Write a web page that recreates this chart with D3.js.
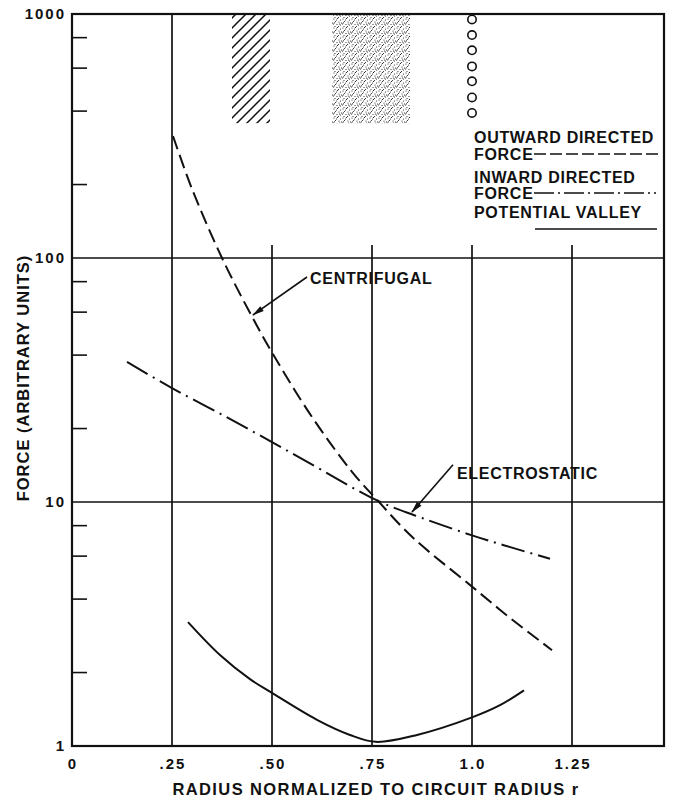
<!DOCTYPE html>
<html>
<head>
<meta charset="utf-8">
<script src="https://cdn.jsdelivr.net/npm/d3@7"></script>
<style>
  body { margin: 0; background: #fff; }
  text { font-family: "Liberation Sans", Arial, sans-serif; font-weight: bold; fill: #111; }
  .lbl { font-size: 16px; letter-spacing: 0.7px; }
  .xtitle { font-size: 16.5px; letter-spacing: 1.4px; }
  .ytitle { font-size: 16.5px; letter-spacing: 1px; }
  .tick { font-size: 15px; letter-spacing: 2px; }
</style>
</head>
<body>
<div id="chart"></div>
<script>
// axis ticks and labels
const xTicks = [0, 0.25, 0.5, 0.75, 1.0, 1.25];
const xTickLabels = ['0', '.25', '.50', '.75', '1.0', '1.25'];
const yTicks = [1, 10, 100, 1000];
const yTickLabels = ['1', '10', '100', '1000'];
const yMinorTicks = [2, 4, 6, 8, 20, 40, 60, 80, 200, 400, 600, 800];
const gridX = [0.25, 0.5, 0.75, 1.0, 1.25];
const gridXTop = [1000, 113, 113, 113, 113];
const gridY = [10, 100];

// curves [r, force]
const centrifugal = [[0.2525, 316], [0.3, 192], [0.375, 100], [0.45, 57.5], [0.5, 41], [0.6, 22.3],
  [0.7, 13.3], [0.765, 10.1], [0.85, 7.2], [1.0, 4.5], [1.1, 3.3], [1.2, 2.47]];
const electrostatic = [[0.1375, 37.5], [0.25, 29.3], [0.375, 22.8], [0.5, 17.6], [0.625, 13.5],
  [0.765, 10.1], [0.875, 8.6], [1.0, 7.3], [1.1, 6.5], [1.195, 5.85]];
const valley = [[0.29, 3.22], [0.37, 2.36], [0.445, 1.88], [0.5, 1.65], [0.6125, 1.28], [0.695, 1.11],
  [0.76, 1.04], [0.8625, 1.11], [1.0, 1.31], [1.07, 1.47], [1.13, 1.69]];

// shaded bands at the top [r0, r1, fBottom]
const hatchBand = [0.40, 0.495, 357];
const stippleBand = [0.65, 0.845, 357];
// column of circles at r = 1.0
const circleR = 1.0;
const circleF = [950, 820, 710, 610, 530, 455, 393];

// annotations: label, arrow tail [r,f], arrow tip [r,f]
const notes = [
  { text: 'CENTRIFUGAL', at: [0.595, 83], tail: [0.5875, 83.6], tip: [0.4525, 58.4] },
  { text: 'ELECTROSTATIC', at: [0.9625, 13.2], tail: [0.9525, 14.2], tip: [0.85, 9.1] }
];

const width = 673;
const height = 803;

const svg = d3.select('#chart')
  .append('svg')
    .attr('width', width)
    .attr('height', height);

const x = d3.scaleLinear().domain([0, 1.48]).range([72, 664]);
const y = d3.scaleLog().domain([1, 1000]).range([746, 14]);

const defs = svg.append('defs');

// hatch pattern
defs.append('pattern')
    .attr('id', 'hatch')
    .attr('patternUnits', 'userSpaceOnUse')
    .attr('width', 10).attr('height', 10)
  .append('path')
    .attr('d', 'M0,10 L10,0 M-2,2 L2,-2 M8,12 L12,8')
    .attr('stroke', '#111')
    .attr('stroke-width', 1.5);

// stipple pattern (fixed dot layout)
const dots = [[1, 1], [4.5, 0.5], [7.5, 2], [2.5, 3.5], [6, 4], [0.5, 6], [4, 6.5], [7.5, 7],
  [2, 8.5], [5.5, 8.5], [8.5, 5], [3.5, 2], [6.5, 6], [1.5, 4.8]];
const stip = defs.append('pattern')
    .attr('id', 'stipple')
    .attr('patternUnits', 'userSpaceOnUse')
    .attr('width', 9).attr('height', 9);
stip.selectAll('circle')
  .data(dots)
  .join('circle')
    .attr('cx', d => d[0])
    .attr('cy', d => d[1])
    .attr('r', 0.6)
    .attr('fill', '#222');

// arrow head
defs.append('marker')
    .attr('id', 'arrow')
    .attr('viewBox', '0 0 12 10')
    .attr('refX', 11).attr('refY', 5)
    .attr('markerWidth', 13).attr('markerHeight', 10)
    .attr('markerUnits', 'userSpaceOnUse')
    .attr('orient', 'auto')
  .append('path')
    .attr('d', 'M0,2 L12,5 L0,8 Z')
    .attr('fill', '#111');

// bands
svg.append('rect')
    .attr('x', x(hatchBand[0]))
    .attr('y', y(1000))
    .attr('width', x(hatchBand[1]) - x(hatchBand[0]))
    .attr('height', y(hatchBand[2]) - y(1000))
    .attr('fill', 'url(#hatch)');

svg.append('rect')
    .attr('x', x(stippleBand[0]))
    .attr('y', y(1000))
    .attr('width', x(stippleBand[1]) - x(stippleBand[0]))
    .attr('height', y(stippleBand[2]) - y(1000))
    .attr('fill', 'url(#stipple)');

// circles
svg.selectAll('.ring')
  .data(circleF)
  .join('circle')
    .attr('class', 'ring')
    .attr('cx', x(circleR))
    .attr('cy', d => y(d))
    .attr('r', 4.2)
    .attr('fill', 'none')
    .attr('stroke', '#111')
    .attr('stroke-width', 1.6);

// grid lines
svg.selectAll('.gx')
  .data(gridX)
  .join('line')
    .attr('class', 'gx')
    .attr('x1', d => x(d)).attr('x2', d => x(d))
    .attr('y1', (d, i) => y(gridXTop[i]))
    .attr('y2', y(1))
    .attr('stroke', '#111')
    .attr('stroke-width', 1.7);

svg.selectAll('.gy')
  .data(gridY)
  .join('line')
    .attr('class', 'gy')
    .attr('x1', x(0)).attr('x2', x(1.48))
    .attr('y1', d => y(d)).attr('y2', d => y(d))
    .attr('stroke', '#111')
    .attr('stroke-width', 1.7);

// frame
svg.append('rect')
    .attr('x', x(0)).attr('y', y(1000))
    .attr('width', x(1.48) - x(0))
    .attr('height', y(1) - y(1000))
    .attr('fill', 'none')
    .attr('stroke', '#111')
    .attr('stroke-width', 2.2);

// minor ticks on the left
svg.selectAll('.minor')
  .data(yMinorTicks)
  .join('line')
    .attr('class', 'minor')
    .attr('x1', x(0)).attr('x2', x(0) + 15)
    .attr('y1', d => y(d)).attr('y2', d => y(d))
    .attr('stroke', '#111')
    .attr('stroke-width', 1.6);

// tick labels
svg.selectAll('.ylab')
  .data(yTicks)
  .join('text')
    .attr('class', 'tick ylab')
    .attr('x', x(0) - 6)
    .attr('y', d => y(d) + 5)
    .attr('text-anchor', 'end')
    .text((d, i) => yTickLabels[i]);

svg.selectAll('.xlab')
  .data(xTicks)
  .join('text')
    .attr('class', 'tick xlab')
    .attr('x', d => x(d) + 1)
    .attr('y', 769)
    .attr('text-anchor', 'middle')
    .text((d, i) => xTickLabels[i]);

// axis titles
svg.append('text')
    .attr('class', 'xtitle')
    .attr('x', 376).attr('y', 795)
    .attr('text-anchor', 'middle')
    .text('RADIUS NORMALIZED TO CIRCUIT RADIUS r');

svg.append('text')
    .attr('class', 'ytitle')
    .attr('transform', 'translate(29,378) rotate(-90)')
    .attr('text-anchor', 'middle')
    .text('FORCE (ARBITRARY UNITS)');

// curves
const line = d3.line()
  .x(d => x(d[0]))
  .y(d => y(d[1]))
  .curve(d3.curveCatmullRom);

svg.append('path')
    .attr('d', line(centrifugal))
    .attr('fill', 'none')
    .attr('stroke', '#111')
    .attr('stroke-width', 2)
    .attr('stroke-dasharray', '14,6');

svg.append('path')
    .attr('d', line(electrostatic))
    .attr('fill', 'none')
    .attr('stroke', '#111')
    .attr('stroke-width', 2)
    .attr('stroke-dasharray', '24,6,2,6');

svg.append('path')
    .attr('d', line(valley))
    .attr('fill', 'none')
    .attr('stroke', '#111')
    .attr('stroke-width', 2);

// annotations
svg.selectAll('.note-arrow')
  .data(notes)
  .join('line')
    .attr('class', 'note-arrow')
    .attr('x1', d => x(d.tail[0])).attr('y1', d => y(d.tail[1]))
    .attr('x2', d => x(d.tip[0])).attr('y2', d => y(d.tip[1]))
    .attr('stroke', '#111')
    .attr('stroke-width', 1.6)
    .attr('marker-end', 'url(#arrow)');

svg.selectAll('.note')
  .data(notes)
  .join('text')
    .attr('class', 'lbl note')
    .attr('x', d => x(d.at[0]))
    .attr('y', d => y(d.at[1]) + 6)
    .text(d => d.text);

// legend
const legend = svg.append('g');
legend.append('text').attr('class', 'lbl').attr('x', 474).attr('y', 143).text('OUTWARD DIRECTED');
legend.append('text').attr('class', 'lbl').attr('x', 474).attr('y', 160).text('FORCE');
legend.append('line')
    .attr('x1', 534).attr('x2', 662).attr('y1', 154).attr('y2', 154)
    .attr('stroke', '#111').attr('stroke-width', 1.6).attr('stroke-dasharray', '12,4');
legend.append('text').attr('class', 'lbl').attr('x', 474).attr('y', 183).text('INWARD DIRECTED');
legend.append('text').attr('class', 'lbl').attr('x', 474).attr('y', 199).text('FORCE');
legend.append('line')
    .attr('x1', 534).attr('x2', 656).attr('y1', 193).attr('y2', 193)
    .attr('stroke', '#111').attr('stroke-width', 1.6).attr('stroke-dasharray', '20,4,2,4');
legend.append('text').attr('class', 'lbl').attr('x', 474).attr('y', 218).text('POTENTIAL VALLEY');
legend.append('line')
    .attr('x1', 535).attr('x2', 657).attr('y1', 229).attr('y2', 229)
    .attr('stroke', '#111').attr('stroke-width', 1.6);
</script>
</body>
</html>
